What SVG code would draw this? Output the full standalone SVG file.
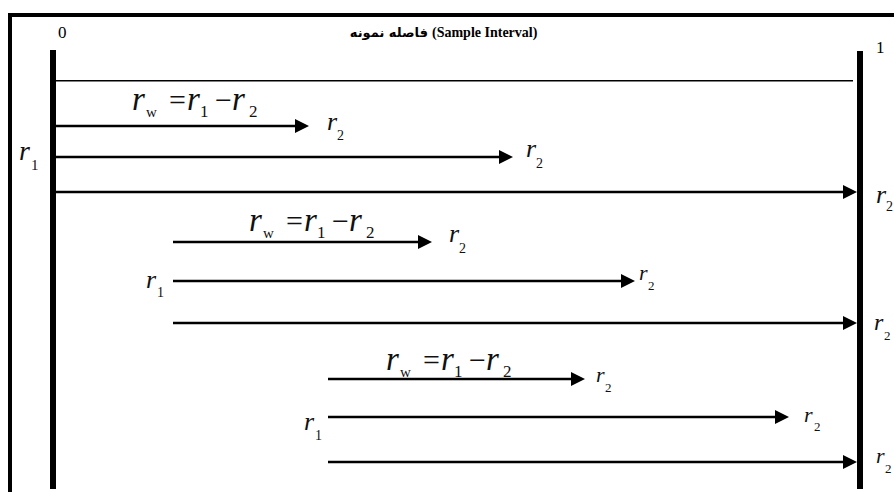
<svg xmlns="http://www.w3.org/2000/svg" width="894" height="492" viewBox="0 0 894 492">
<style>
.bg{fill:#fff}
.frame{fill:none;stroke:#000;stroke-width:4}
.bar{stroke:#000;stroke-width:6}
.thin{stroke:#000;stroke-width:1.6}
.ar{stroke:#000;stroke-width:2.5;marker-end:url(#ah)}
.num{font-family:"Liberation Serif",serif;font-size:17px;fill:#000}
.ttl{font-family:"Liberation Serif","DejaVu Serif",serif;font-size:14px;font-weight:bold;fill:#000}
.fa{font-family:"DejaVu Sans",sans-serif;font-size:13px;font-weight:bold;fill:#000}
.mi{font-family:"Liberation Serif",serif;font-style:italic;fill:#111}
.mn{font-family:"Liberation Serif",serif;font-style:normal;fill:#111}
</style>
<defs>
<marker id="ah" markerUnits="userSpaceOnUse" markerWidth="14" markerHeight="14" refX="4" refY="7" orient="auto">
<path d="M0,0 L14,7 L0,14 z" fill="#000"/>
</marker>
<g id="eq">
<text class="mi" font-size="33" x="-1" y="0">r</text>
<text class="mn" font-size="15" x="13" y="7">w</text>
<text class="mn" font-size="30" x="36" y="0">=</text>
<text class="mi" font-size="33" x="54" y="0">r</text>
<text class="mn" font-size="17" x="67" y="7">1</text>
<text class="mn" font-size="30" x="82" y="0">−</text>
<text class="mi" font-size="33" x="99" y="0">r</text>
<text class="mn" font-size="17" x="116" y="7">2</text>
</g>
</defs>
<rect class="bg" x="0" y="0" width="894" height="492"/>
<g id="frame">
<path class="frame" d="M10,492 V15 H894"/>
</g>
<g id="header">
<text class="num" x="58" y="38">0</text>
<text class="num" x="876" y="53">1</text>
<text class="fa" x="428" y="37" text-anchor="end">فاصله نمونه</text>
<text class="ttl" x="432" y="37">(Sample Interval)</text>
</g>
<g id="start-bar"><line class="bar" x1="53" y1="50" x2="53" y2="489"/></g>
<g id="end-bar"><line class="bar" x1="860" y1="51" x2="860" y2="489"/></g>
<g id="connectors">
<line class="thin" x1="56" y1="80.7" x2="853" y2="80.7"/>
<line class="ar" x1="56" y1="126" x2="299" y2="126"/>
<line class="ar" x1="56" y1="157" x2="503" y2="157"/>
<line class="ar" x1="56" y1="192" x2="847" y2="192"/>
<line class="ar" x1="173" y1="242" x2="422" y2="242"/>
<line class="ar" x1="173" y1="281" x2="625" y2="281"/>
<line class="ar" x1="173" y1="323" x2="847" y2="323"/>
<line class="ar" x1="328" y1="379" x2="575" y2="379"/>
<line class="ar" x1="328" y1="417" x2="779" y2="417"/>
<line class="ar" x1="328" y1="462" x2="847" y2="462"/>
</g>
<g id="labels-row1">
<use href="#eq" x="133" y="110"/>
<text class="mi" font-size="28" x="19" y="160">r</text><text class="mn" font-size="15" x="31" y="170">1</text>
<text class="mi" font-size="26" x="327" y="130">r</text><text class="mn" font-size="14" x="337" y="140">2</text>
<text class="mi" font-size="26" x="526" y="157">r</text><text class="mn" font-size="14" x="536" y="168">2</text>
<text class="mi" font-size="26" x="876" y="203">r</text><text class="mn" font-size="14" x="886" y="211">2</text>
</g>
<g id="labels-row2">
<use href="#eq" x="250" y="231"/>
<text class="mi" font-size="26" x="146" y="288">r</text><text class="mn" font-size="14" x="157" y="297">1</text>
<text class="mi" font-size="26" x="449" y="242">r</text><text class="mn" font-size="14" x="459" y="253">2</text>
<text class="mi" font-size="22" x="639" y="280">r</text><text class="mn" font-size="13" x="648" y="290">2</text>
<text class="mi" font-size="24" x="874" y="330">r</text><text class="mn" font-size="13" x="884" y="340">2</text>
</g>
<g id="labels-row3">
<use href="#eq" x="387" y="370"/>
<text class="mi" font-size="26" x="304" y="430">r</text><text class="mn" font-size="14" x="315" y="440">1</text>
<text class="mi" font-size="22" x="596" y="382">r</text><text class="mn" font-size="13" x="605" y="392">2</text>
<text class="mi" font-size="22" x="804" y="422">r</text><text class="mn" font-size="13" x="814" y="431">2</text>
<text class="mi" font-size="22" x="876" y="463">r</text><text class="mn" font-size="13" x="885" y="473">2</text>
</g>
</svg>
